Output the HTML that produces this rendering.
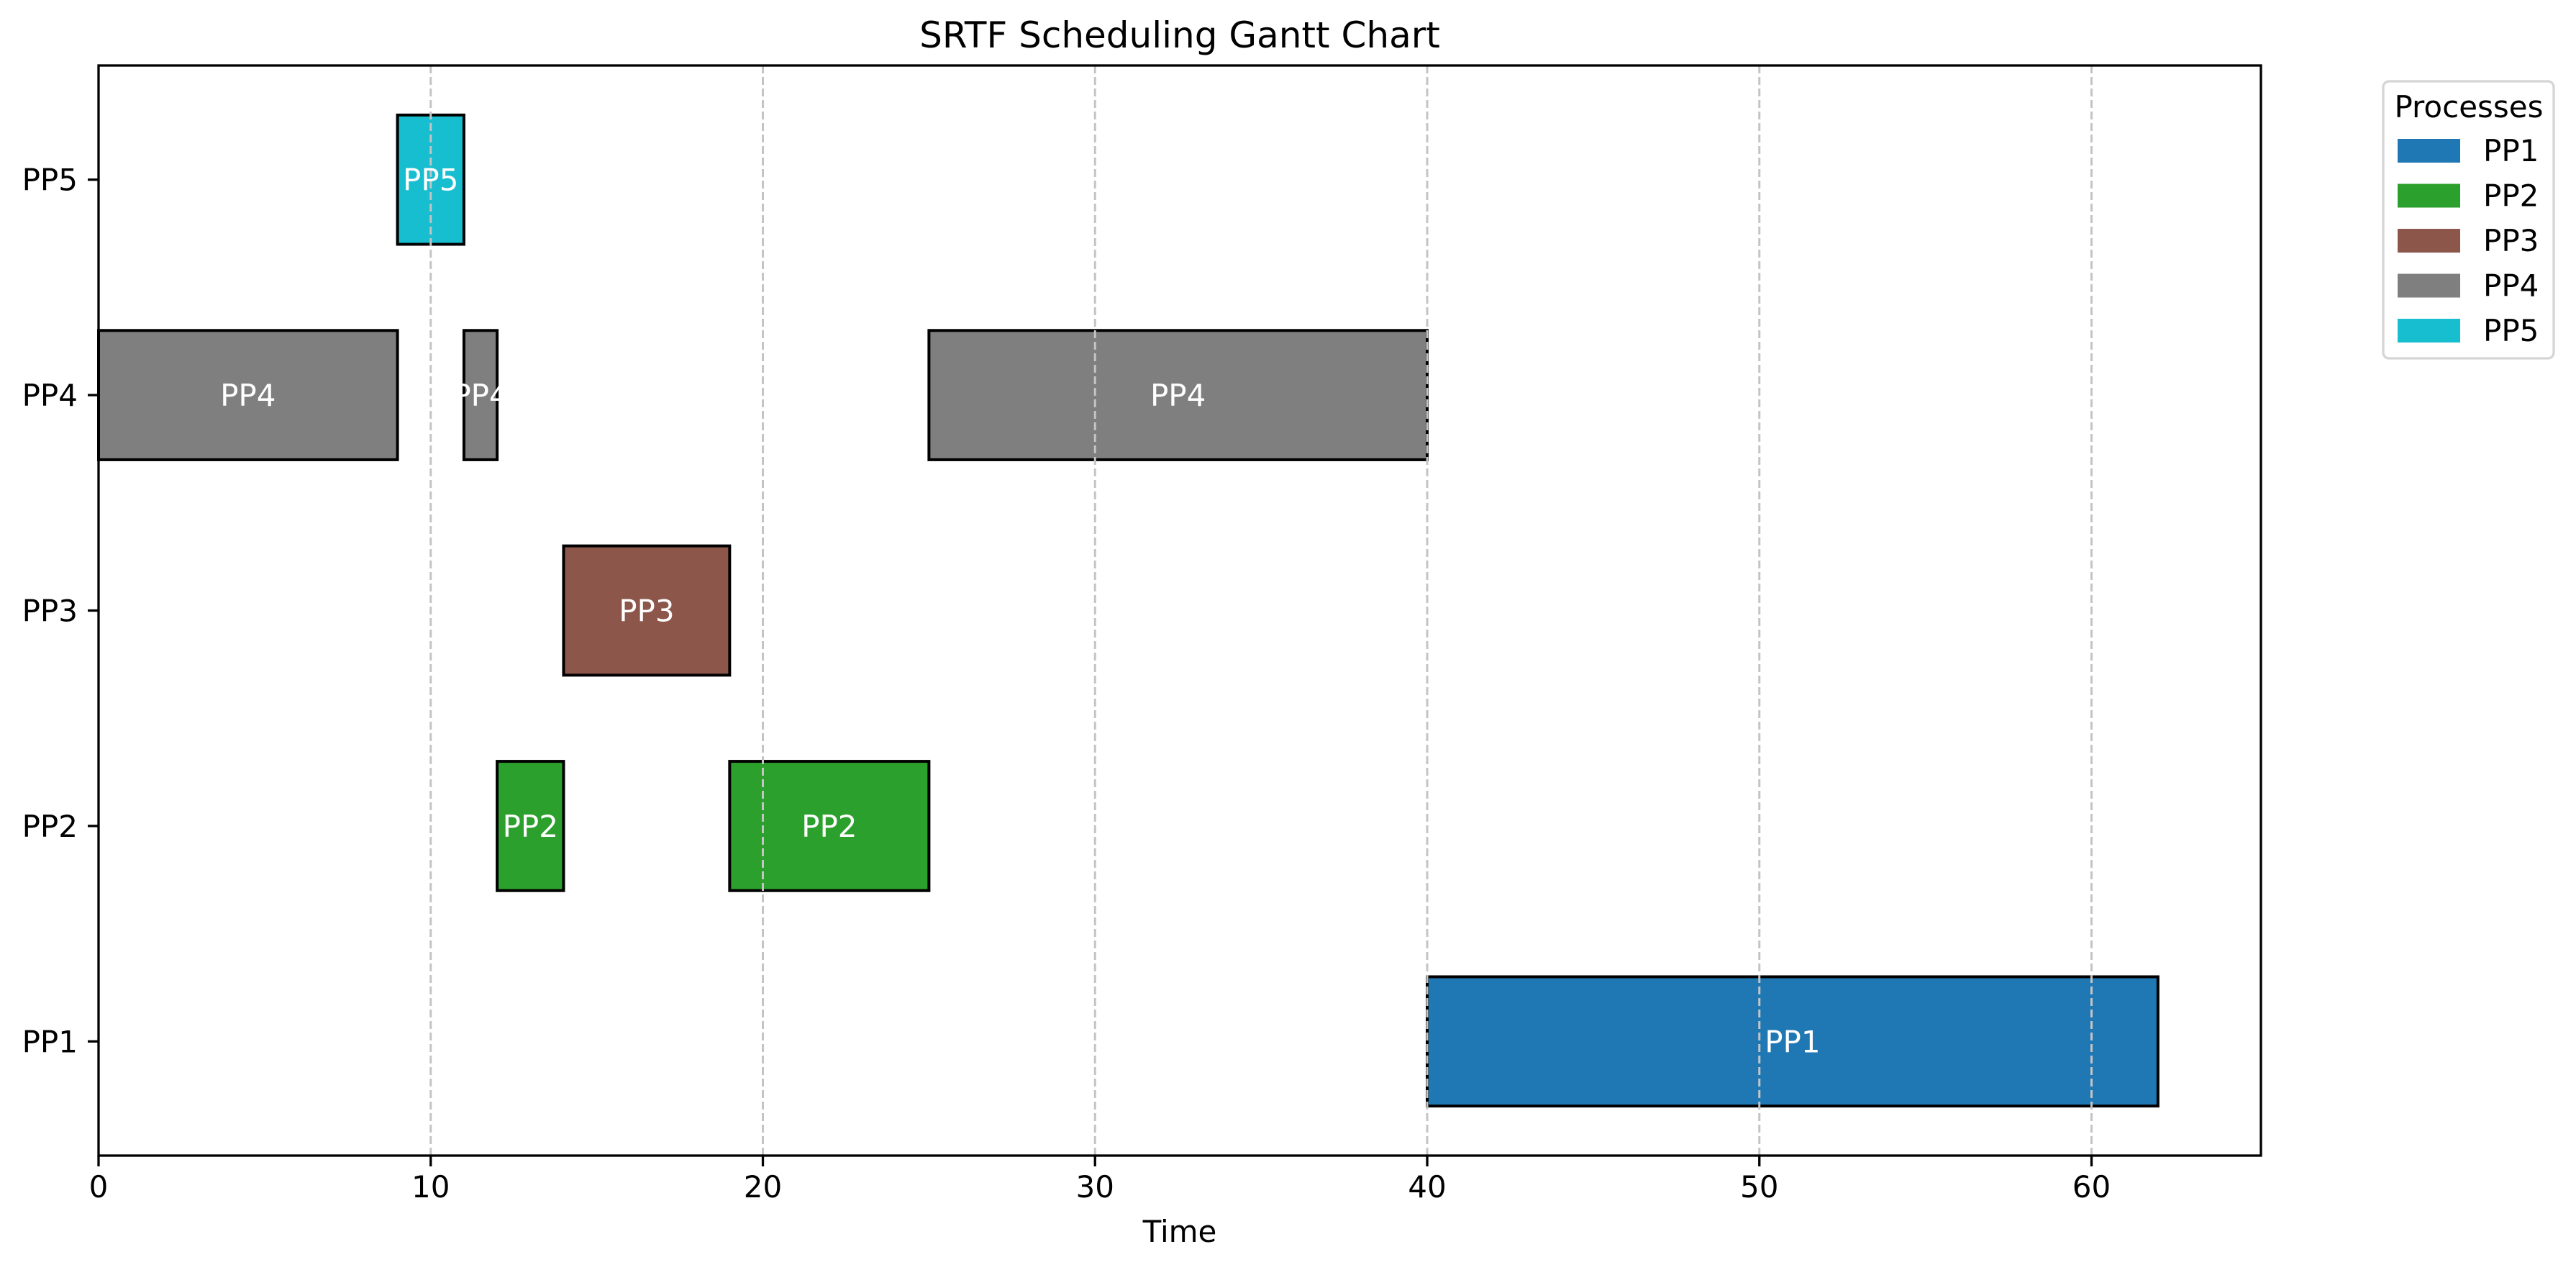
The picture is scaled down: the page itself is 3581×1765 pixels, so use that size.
<!DOCTYPE html>
<html><head><meta charset="utf-8"><style>
html,body{margin:0;padding:0;background:#fff}
svg{display:block;font-family:"DejaVu Sans","Liberation Sans",sans-serif}
</style></head><body>
<svg id="chart" width="3581" height="1765" viewBox="0 0 3581 1765" xmlns="http://www.w3.org/2000/svg">
<rect width="3581" height="1765" fill="#fff"/>
<text x="1640" y="66" font-size="50" text-anchor="middle">SRTF Scheduling Gantt Chart</text>
<text x="1640" y="1726" font-size="42" text-anchor="middle">Time</text>
<g id="plot"></g>
</svg>
<script>
const processes = ["PP1","PP2","PP3","PP4","PP5"];
const colors = ["#1f77b4","#2ca02c","#8c564b","#7f7f7f","#17becf"];
const segProc = ["PP4","PP5","PP4","PP2","PP3","PP2","PP4","PP1"];
const segStart = [0,9,11,12,14,19,25,40];
const segEnd = [9,11,12,14,19,25,40,62];
const xTicks = [0,10,20,30,40,50,60];

const L=137,R=3143,T=91,B=1606;
const xMin=0,xMax=65.1,yMin=-0.53,yMax=4.53;
const xs=v=>L+(v-xMin)/(xMax-xMin)*(R-L);
const ys=v=>B-(v-yMin)/(yMax-yMin)*(B-T);
const NS="http://www.w3.org/2000/svg";
const g=document.getElementById('plot');
function mk(tag,attrs,parent){const e=document.createElementNS(NS,tag);for(const k in attrs)e.setAttribute(k,attrs[k]);(parent||g).appendChild(e);return e;}

// bars
segProc.forEach((p,i)=>{
  const yi=processes.indexOf(p);
  const x0=xs(segStart[i]),x1=xs(segEnd[i]);
  const y0=ys(yi+0.3),y1=ys(yi-0.3);
  const r=mk('rect',{x:x0,y:y0,width:x1-x0,height:y1-y0,fill:colors[yi],stroke:'#000','stroke-width':4});
  
  
});
// grid (drawn over bars)
xTicks.forEach(v=>{
  const l=mk('line',{x1:xs(v),x2:xs(v),y1:T,y2:B,stroke:'#c4c4c4','stroke-width':3,'stroke-dasharray':'11,5'});
  
  
});
// labels
segProc.forEach((p,i)=>{
  const yi=processes.indexOf(p);
  const t=mk('text',{x:(xs(segStart[i])+xs(segEnd[i]))/2,y:ys(yi)+15,'font-size':42,fill:'#fff','text-anchor':'middle'});
  t.textContent=p;
  
  
});
// axes frame
const f=mk('rect',{x:L,y:T,width:R-L,height:B-T,fill:'none',stroke:'#000','stroke-width':3.3});


// x ticks
xTicks.forEach(v=>{
  const tk=mk('line',{x1:xs(v),x2:xs(v),y1:B,y2:B+15,stroke:'#000','stroke-width':3.3});
  
  
  const t=mk('text',{x:xs(v),y:B+58,'font-size':42,'text-anchor':'middle'});
  t.textContent=v;
  
  
});
// y ticks
processes.forEach((p,i)=>{
  const tk=mk('line',{x1:L-15,x2:L,y1:ys(i),y2:ys(i),stroke:'#000','stroke-width':3.3});
  
  
  const t=mk('text',{x:L-29,y:ys(i)+15,'font-size':42,'text-anchor':'end'});
  t.textContent=p;
  
  
});
// legend
const lg=mk('g',{});


mk('rect',{x:3313,y:113,width:237,height:385,rx:8,fill:'#fff',stroke:'#d5d5d5','stroke-width':3.3},lg);
const lt=mk('text',{x:3432,y:163,'font-size':42,'text-anchor':'middle'},lg);
lt.textContent='Processes';


processes.forEach((p,i)=>{
  const cy=209+i*62.5;
  const sw=mk('rect',{x:3333,y:cy-16,width:87,height:33,fill:colors[i]},lg);
  
  
  const t=mk('text',{x:3452,y:cy+15,'font-size':42},lg);
  t.textContent=p;
  
  
});
</script>
</body></html>
